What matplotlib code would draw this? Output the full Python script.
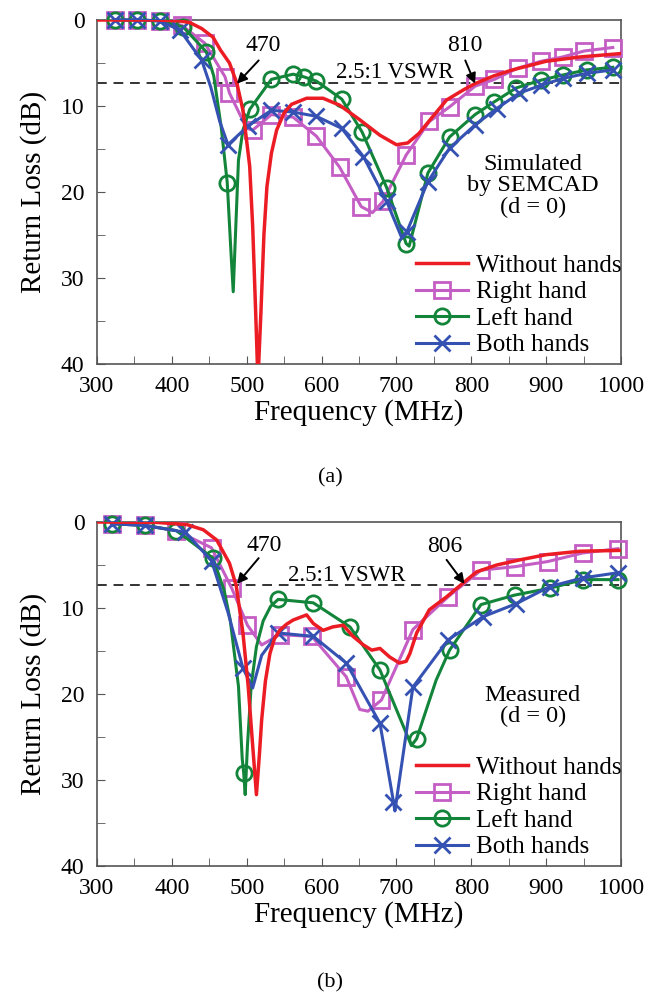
#!/usr/bin/env python3
import numpy as np
import matplotlib
matplotlib.use('Agg')
import matplotlib.pyplot as plt

plt.rcParams['font.family'] = ['Liberation Serif', 'DejaVu Serif']
plt.rcParams['mathtext.fontset'] = 'stix'

VSWR_DB = 7.36  # return loss for 2.5:1 VSWR

# ---------------- panel (a): simulated ----------------
a_red_f = [300, 380, 410, 424, 440, 455, 465, 477, 487, 495, 504, 508, 512, 515,
           519, 523, 527, 533, 540, 550, 560, 580, 602, 624, 651, 678, 700, 715,
           730, 745, 767, 790, 805, 830, 855, 900, 945, 1000]
a_red_db = [0, 0, 0.1, 0.3, 1.0, 2.0, 3.5, 5.0, 7.4, 10.5, 17, 24, 34, 42,
            34, 25, 19.4, 15.5, 12.8, 10.8, 9.8, 9.1, 9.1, 9.9, 11.6, 13.4, 14.5, 14.3,
            13.2, 11.6, 9.3, 8.1, 7.4, 6.5, 5.8, 4.8, 4.3, 3.9]

a_right_f = [324, 354, 384, 413, 444, 471, 477, 500, 508, 533, 562, 593, 624, 653,
             668, 682, 713, 744, 771, 805, 831, 862, 893, 922, 951, 989]
a_right_db = [0, 0, 0.1, 0.6, 2.7, 6.6, 8.5, 12.6, 12.8, 11.0, 11.3, 13.5, 17.1, 21.7,
              22.4, 21.1, 15.7, 11.8, 10.1, 7.7, 6.9, 5.6, 4.8, 4.3, 3.6, 3.2]
a_right_mark = [324, 354, 384, 413, 444, 471, 477, 508, 533, 562, 593, 624, 653,
                682, 713, 744, 771, 805, 831, 862, 893, 922, 951, 989]

a_left_f = [324, 354, 384, 415, 446, 456, 466, 474, 479, 482, 485, 489, 495, 504,
            533, 562, 576, 593, 627, 654, 687, 713, 717, 742, 771, 805, 831, 860,
            893, 922, 954, 989]
a_left_db = [0, 0, 0.1, 0.8, 3.7, 6.5, 12.5, 18.9, 27, 31.6, 25, 16.3, 12.8, 10.4,
             6.9, 6.3, 6.6, 7.1, 9.2, 13.0, 19.5, 26.0, 26.3, 17.8, 13.6, 11.0, 9.5, 7.9,
             7.0, 6.4, 5.8, 5.5]
a_left_mark = [324, 354, 384, 415, 446, 474, 504, 533, 562, 576, 593, 627, 654, 687,
               713, 742, 771, 805, 831, 860, 893, 922, 954, 989]

a_both_f = [324, 354, 384, 411, 440, 452, 464, 475, 502, 533, 562, 593, 627, 656,
            687, 707, 714, 742, 771, 805, 834, 864, 893, 922, 954, 989]
a_both_db = [0, 0, 0.1, 1.2, 4.7, 7.8, 11.8, 14.5, 12.3, 10.5, 10.7, 11.2, 12.6, 15.9,
             21.1, 25.3, 24.6, 18.8, 14.9, 12.2, 10.3, 8.5, 7.6, 6.8, 6.2, 5.8]
a_both_mark = [324, 354, 384, 411, 440, 475, 502, 533, 562, 593, 627, 656, 687, 714,
               742, 771, 805, 834, 864, 893, 922, 954, 989]

# ---------------- panel (b): measured ----------------
b_red_f = [300, 380, 420, 442, 460, 477, 486, 495, 502, 508, 513, 517, 520, 525,
           531, 537, 544, 553, 562, 580, 589, 602, 615, 629, 642, 656, 667, 678,
           691, 704, 713, 718, 727, 744, 767, 789, 807, 834, 865, 900, 945, 1000]
b_red_db = [0, 0.05, 0.3, 0.9, 2.1, 4.8, 7.4, 12.9, 19.1, 26, 31.7, 27, 23, 18.5,
            15.3, 13.6, 12.6, 11.9, 11.4, 10.8, 11.8, 12.6, 12.2, 12.0, 13.3, 14.3, 14.9, 14.7,
            15.7, 16.4, 16.2, 15.3, 12.9, 10.2, 8.7, 7.1, 5.8, 5.0, 4.4, 3.8, 3.4, 3.3]

b_right_f = [320, 364, 406, 453, 480, 501, 520, 544, 587, 633, 651, 662, 680, 722,
             769, 813, 858, 902, 949, 996]
b_right_db = [0.2, 0.4, 1.0, 3.0, 7.7, 12.0, 14.3, 13.1, 13.3, 18.0, 21.8, 22.0, 20.7, 12.5,
              8.7, 5.6, 5.2, 4.6, 3.6, 3.1]
b_right_mark = [320, 364, 406, 453, 480, 501, 544, 587, 633, 680, 722, 769, 813, 858,
                902, 949, 996]

b_left_f = [320, 364, 406, 455, 470, 478, 489, 494, 496, 498, 501, 506, 513, 522,
            532, 542, 589, 638, 678, 720, 727, 753, 771, 813, 858, 905, 949, 996]
b_left_db = [0.2, 0.4, 1.0, 4.2, 8.0, 11.4, 19.1, 27.5, 29.2, 31.7, 26, 19, 14.5, 11.5,
             9.8, 9.0, 9.4, 12.2, 17.2, 26.0, 25.2, 18.4, 14.9, 9.6, 8.5, 7.7, 6.7, 6.7]
b_left_mark = [320, 364, 406, 455, 496, 542, 589, 638, 678, 727, 771, 813, 858, 905,
               949, 996]

b_both_f = [320, 364, 418, 453, 475, 495, 508, 520, 542, 589, 633, 678, 696, 698,
            722, 769, 816, 860, 905, 949, 996]
b_both_db = [0.2, 0.4, 1.2, 4.5, 10.5, 17.0, 19.3, 15.5, 12.9, 13.3, 16.4, 23.4, 32.5, 33.6,
             19.2, 13.7, 11.0, 9.5, 7.5, 6.5, 5.9]
b_both_mark = [320, 364, 418, 453, 495, 542, 589, 633, 678, 696, 722, 769, 816, 860,
               905, 949, 996]

labels = ['Without hands', 'Right hand', 'Left hand', 'Both hands']
RED = '#ec1c24'
MAG = '#c45ec4'
GRN = '#13853a'
BLU = '#3552b3'


def draw_series(ax, f, db, mark, color, marker, label, z):
    idx = [i for i, x in enumerate(f) if x in mark]
    ax.plot(f, db, color=color, lw=2.2, marker=marker, markevery=idx,
            ms=11, mfc='none', mew=2.0, label=label, zorder=z, clip_on=False)


def draw_panel(ax, red, right, left, both, arrows, vswr_xy, note, note_xy):
    draw_series(ax, right[0], right[1], right[2], MAG, 's', labels[1], 3)
    draw_series(ax, left[0], left[1], left[2], GRN, 'o', labels[2], 4)
    draw_series(ax, both[0], both[1], both[2], BLU, 'x', labels[3], 5)
    ax.plot(red[0], red[1], color=RED, lw=2.5, label=labels[0], zorder=6)

    ax.axhline(VSWR_DB, color='#333333', lw=1.4, ls=(0, (5, 3.5)), zorder=2)
    ax.text(vswr_xy[0], vswr_xy[1], '2.5:1 VSWR', fontsize=16.5, ha='center',
            va='center', zorder=7)
    # annotation: label, label position, arrow tail, arrow tip
    for txt, txy, tail, tip in arrows:
        ax.text(txy[0], txy[1], txt, fontsize=17, ha='center', va='center', zorder=8)
        ax.annotate('', xy=tip, xytext=tail, zorder=8,
                    arrowprops=dict(arrowstyle='-|>', color='black', lw=1.4,
                                    mutation_scale=15, shrinkA=0, shrinkB=0))
    ax.text(note_xy[0], note_xy[1], note, fontsize=17.5, ha='center', va='center',
            linespacing=1.05)

    ax.set_xlim(300, 1000)
    ax.set_ylim(40, 0)
    ax.set_xticks(np.arange(300, 1001, 100))
    ax.set_xticks(np.arange(300, 1001, 50), minor=True)
    ax.set_yticks(np.arange(0, 41, 10))
    ax.set_yticks(np.arange(0, 41, 5), minor=True)
    ax.tick_params(which='both', direction='in', labelsize=17, color='#555555',
                   top=False, right=False, length=6)
    ax.tick_params(axis='x', which='major', pad=9)
    ax.tick_params(axis='y', which='major', pad=9)
    for s in ax.spines.values():
        s.set_color('#555555')
        s.set_linewidth(1.2)
    ax.set_xlabel('Frequency (MHz)', fontsize=21, labelpad=1)
    ax.set_ylabel('Return Loss (dB)', fontsize=21, labelpad=10)

    h, l = ax.get_legend_handles_labels()
    order = [l.index(x) for x in labels]
    ax.legend([h[i] for i in order], labels, loc='lower right',
              bbox_to_anchor=(1.005, 0.015), frameon=False, fontsize=18,
              handlelength=2.1, handletextpad=0.3, labelspacing=0.16,
              borderpad=0.1, borderaxespad=0.0)


fig = plt.figure(figsize=(6.61, 10), dpi=100)
ax1 = fig.add_axes([0.1467, 0.636, 0.7928, 0.344])
ax2 = fig.add_axes([0.1467, 0.134, 0.7928, 0.344])

draw_panel(ax1,
           (a_red_f, a_red_db),
           (a_right_f, a_right_db, a_right_mark),
           (a_left_f, a_left_db, a_left_mark),
           (a_both_f, a_both_db, a_both_mark),
           [('470', (522, 3.0), (516, 4.7), (487, 7.4)),
            ('810', (792, 3.0), (792, 4.7), (805, 7.4))],
           (698, 6.1), 'Simulated\nby SEMCAD\n(d = 0)', (882, 19.3))

draw_panel(ax2,
           (b_red_f, b_red_db),
           (b_right_f, b_right_db, b_right_mark),
           (b_left_f, b_left_db, b_left_mark),
           (b_both_f, b_both_db, b_both_mark),
           [('470', (524, 2.7), (516, 4.2), (487, 7.2)),
            ('806', (765, 2.9), (767, 4.4), (791, 7.2))],
           (633, 6.2), 'Measured\n(d = 0)', (882, 21.4))

fig.text(0.5, 1 - 478 / 1000, '(a)', fontsize=16, ha='center', va='center')
fig.text(0.5, 1 - 983 / 1000, '(b)', fontsize=16, ha='center', va='center')

fig.savefig('out.png', dpi=100)
